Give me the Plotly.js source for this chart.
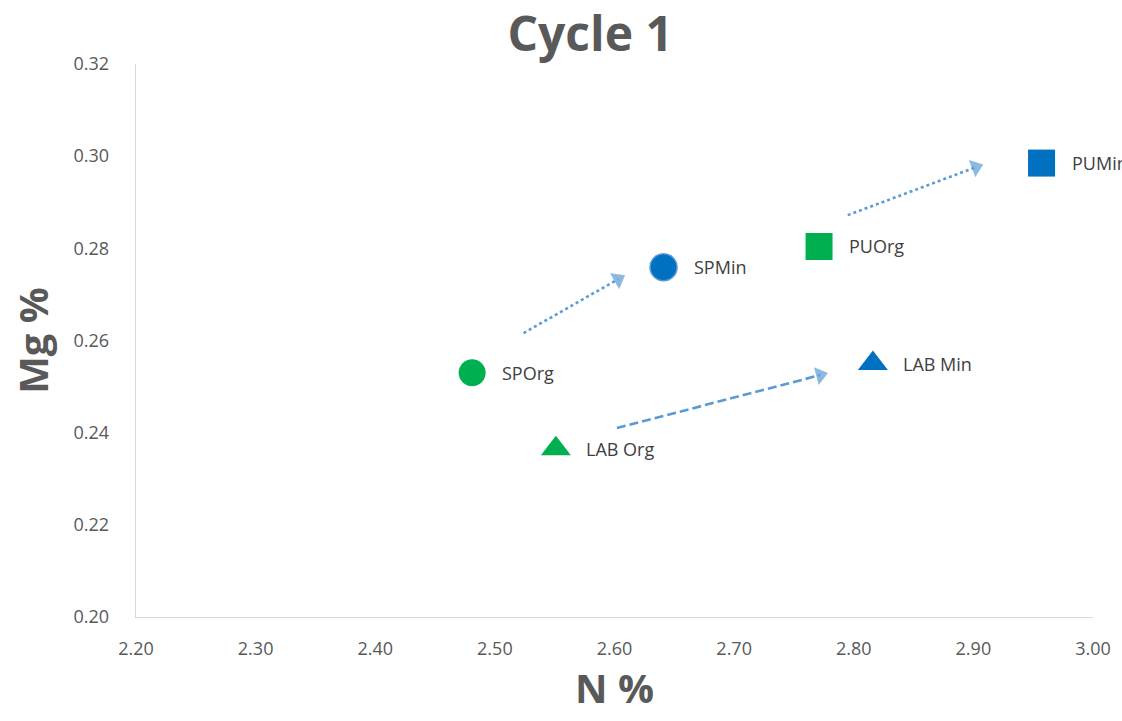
<!DOCTYPE html>
<html>
<head>
<meta charset="utf-8">
<script src="https://cdn.plot.ly/plotly-3.0.1.min.js"></script>
<style>html,body{margin:0;padding:0;background:#fff;}#chart{width:1122px;height:721px;}</style>
</head>
<body>
<div id="chart"></div>
<script>
// ---- Data ----
const pointLabels = ['SPOrg', 'SPMin', 'PUOrg', 'PUMin', 'LAB Org', 'LAB Min'];
const nPct  = [2.481, 2.641, 2.771, 2.957, 2.551, 2.816];
const mgPct = [0.2530, 0.2759, 0.2804, 0.2985, 0.2365, 0.2550];

// arrows: start and end (N %, Mg %)
const arrowStartN  = [2.524, 2.602, 2.795];
const arrowStartMg = [0.2616, 0.2410, 0.2872];
const arrowEndN    = [2.603, 2.772, 2.902];
const arrowEndMg   = [0.2733, 0.2525, 0.2976];

const xTicks = [2.20, 2.30, 2.40, 2.50, 2.60, 2.70, 2.80, 2.90, 3.00];
const yTicks = [0.20, 0.22, 0.24, 0.26, 0.28, 0.30, 0.32];

// ---- Styles ----
const GREEN = '#00b050', BLUE = '#0070c0', ARROW = '#5b9bd5';
const markerStyles = [
  {symbol: 'circle', color: GREEN, size: 27, line: {color: GREEN, width: 0}},
  {symbol: 'circle', color: BLUE, size: 27, line: {color: '#5b9bd5', width: 1.5}},
  {symbol: 'square', color: GREEN, size: 27, line: {color: GREEN, width: 0}},
  {symbol: 'square', color: BLUE, size: 27, line: {color: BLUE, width: 0}},
  {symbol: 'triangle-up', color: GREEN, size: 26, line: {color: GREEN, width: 0}},
  {symbol: 'triangle-up', color: BLUE, size: 26, line: {color: BLUE, width: 0}}
];
const arrowDash = ['dot', '9px,4px', 'dot'];

const traces = [];
for (let i = 0; i < arrowStartN.length; i++) {
  traces.push({
    type: 'scatter', mode: 'lines+markers',
    x: [arrowStartN[i], arrowEndN[i]],
    y: [arrowStartMg[i], arrowEndMg[i]],
    line: {color: ARROW, width: 2.6, dash: arrowDash[i]},
    marker: {symbol: 'triangle-up', size: [0, 16], color: ARROW, angleref: 'previous', line: {width: 0}},
    hoverinfo: 'skip', showlegend: false
  });
}
for (let i = 0; i < pointLabels.length; i++) {
  const s = markerStyles[i];
  traces.push({
    type: 'scatter', mode: 'markers',
    x: [nPct[i]], y: [mgPct[i]], name: pointLabels[i],
    marker: {symbol: s.symbol, size: s.size, color: s.color, line: s.line},
    showlegend: false, cliponaxis: false
  });
}

const annotations = pointLabels.map((t, i) => ({
  x: nPct[i], y: mgPct[i], xref: 'x', yref: 'y',
  text: t, showarrow: false, xanchor: 'left', yanchor: 'middle',
  xshift: 28, font: {family: 'Open Sans', size: 18, color: '#404040'}
}));

const layout = {
  width: 1122, height: 721,
  margin: {l: 136, r: 29, t: 64, b: 104},
  paper_bgcolor: '#ffffff', plot_bgcolor: '#ffffff',
  font: {family: 'Open Sans', color: '#595959'},
  title: {
    text: '<b>Cycle 1</b>',
    font: {family: 'Open Sans', size: 48, color: '#595959'},
    x: 0.526, xanchor: 'center', xref: 'container',
    y: 0.952, yanchor: 'middle', yref: 'container'
  },
  xaxis: {
    range: [2.2, 3.0], tickvals: xTicks, tickformat: '.2f',
    showgrid: false, zeroline: false, showline: true, linecolor: '#d9d9d9', linewidth: 1.3,
    ticks: '', ticklabelstandoff: 15,
    tickfont: {family: 'Open Sans', size: 18, color: '#595959'},
    title: {text: '<b>N %</b>', font: {family: 'Open Sans', size: 40, color: '#595959'}, standoff: 11},
    automargin: false, fixedrange: true
  },
  yaxis: {
    range: [0.20, 0.32], tickvals: yTicks, tickformat: '.2f',
    showgrid: false, zeroline: false, showline: true, linecolor: '#d9d9d9', linewidth: 1.3,
    ticks: '', ticklabelstandoff: 22,
    tickfont: {family: 'Open Sans', size: 18, color: '#595959'},
    title: {text: '<b>Mg %</b>', font: {family: 'Open Sans', size: 40, color: '#595959'}, standoff: 12},
    automargin: false, fixedrange: true
  },
  annotations: annotations,
  showlegend: false
};

Plotly.newPlot('chart', traces, layout, {displayModeBar: false, staticPlot: true});
</script>
</body>
</html>
